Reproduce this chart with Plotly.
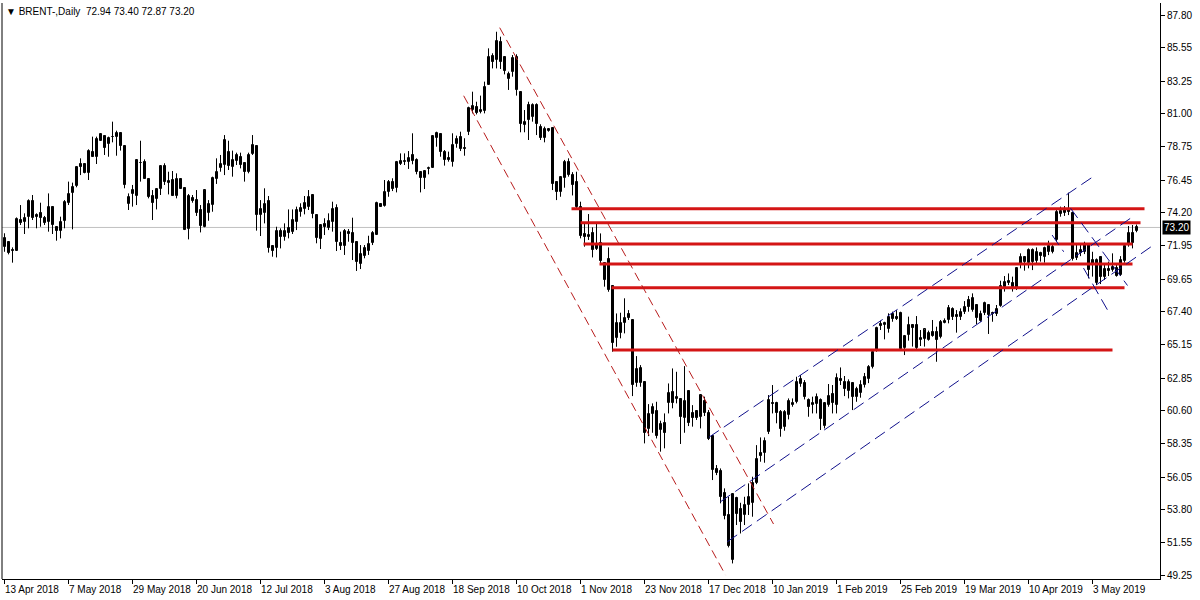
import plotly.graph_objects as go

# ---------------- DATA (bar index 0 = 13 Apr 2018, one bar per trading day) ----------------
open_ = [71.88,72.22,71.62,71.60,73.71,73.57,73.89,75.04,74.03,74.17,73.82,73.60,74.58,73.25,72.98,73.66,74.90,75.54,76.05,77.54,
         77.54,76.96,78.41,78.02,79.16,79.48,78.91,79.44,79.44,79.67,78.80,74.81,75.50,75.38,77.61,77.72,76.53,75.36,75.13,75.82,
         77.42,76.23,76.46,75.36,76.51,75.89,73.07,75.22,75.08,74.40,73.21,74.21,74.74,76.51,77.26,77.49,78.41,77.38,77.79,78.02,
         77.61,77.03,78.23,78.80,74.05,74.21,75.04,71.92,71.76,72.98,72.56,73.14,72.86,73.60,74.28,74.44,74.63,75.43,74.05,72.40,
         73.41,73.14,73.60,74.56,72.11,71.92,72.91,72.79,72.22,70.66,71.26,71.58,72.11,72.68,74.79,74.70,75.61,76.35,75.89,77.58,
         77.68,77.68,78.18,77.84,77.03,76.57,77.22,77.31,79.37,79.60,78.41,77.99,77.68,78.91,79.44,78.64,79.74,81.27,81.50,81.11,
         81.20,82.99,85.01,84.71,85.92,84.94,83.40,83.86,84.94,82.53,80.24,81.61,80.81,81.61,80.13,79.37,79.83,80.01,76.35,75.66,
         76.57,77.72,76.80,76.35,74.63,72.75,72.52,72.79,71.69,72.11,70.73,71.00,69.17,65.58,65.97,66.65,67.25,66.84,62.48,62.48,
         62.60,59.32,60.38,60.61,59.25,59.78,61.11,61.91,61.38,61.38,60.08,61.98,60.42,60.61,60.19,61.29,60.42,58.86,56.57,56.48,
         54.97,53.44,50.34,54.58,53.82,53.44,54.12,54.24,55.61,57.72,57.72,59.16,61.16,61.16,60.53,59.46,60.31,60.99,61.22,62.44,
         62.53,61.34,60.99,61.06,61.34,59.55,61.00,61.75,60.99,62.76,62.60,61.98,62.48,61.57,61.80,62.40,62.76,63.63,64.78,66.56,
         66.49,66.20,67.25,67.02,67.34,64.89,65.81,66.49,66.49,65.47,65.51,65.47,65.99,66.04,65.69,66.65,66.84,67.57,67.18,67.07,
         67.41,68.21,67.52,67.87,66.79,67.30,67.87,67.30,67.25,67.80,69.13,69.36,69.36,69.01,70.69,71.19,70.73,71.65,70.92,71.42,
         71.14,71.53,71.49,72.34,74.12,74.17,74.40,74.21,71.07,71.42,71.53,71.99,70.62,69.41,71.14,69.82,70.32,70.27,70.39,69.93,
         70.92,72.00,72.84,72.94]
high = [72.80,72.22,71.83,73.89,74.74,74.17,75.13,75.43,74.17,74.90,73.99,75.54,74.58,73.25,73.94,75.08,76.35,76.28,77.42,77.95,
        77.54,78.57,79.44,79.44,79.67,79.48,79.44,80.47,79.85,79.67,78.80,75.54,76.12,77.88,79.16,77.88,76.53,75.77,75.89,77.42,
        77.61,77.03,77.08,76.92,76.58,75.89,75.50,75.43,75.77,74.74,75.77,75.08,76.69,77.95,78.18,79.55,79.16,78.48,78.34,78.34,
        77.61,78.34,79.55,78.80,75.08,75.89,75.36,71.92,73.25,73.14,73.48,74.44,74.44,74.63,74.86,75.36,75.77,75.43,74.05,73.41,
        73.83,74.17,74.97,74.79,72.91,73.09,73.09,73.87,72.22,71.99,71.99,72.63,72.95,74.97,74.86,76.46,76.46,76.58,77.77,78.29,
        78.29,78.45,79.67,77.95,77.03,77.08,77.38,79.49,79.78,79.67,78.52,78.41,79.67,79.51,79.78,79.33,81.50,82.53,81.84,82.26,
        83.22,85.51,85.17,86.65,86.31,84.94,83.91,85.05,85.10,82.53,81.27,81.84,81.73,81.73,80.29,80.13,80.01,80.01,76.35,76.69,
        77.84,77.95,77.00,77.03,74.97,73.53,74.12,73.21,73.44,72.79,70.73,71.83,69.17,67.29,67.34,68.33,67.52,66.84,64.36,63.74,
        62.60,61.06,61.11,61.22,59.92,60.42,62.48,63.51,63.28,61.43,63.67,61.98,60.99,60.65,61.68,61.57,60.65,58.93,56.87,56.64,
        55.27,54.69,54.88,54.69,54.28,54.69,55.61,56.07,58.24,58.77,58.77,61.68,62.37,61.22,60.65,60.65,61.45,61.45,62.94,63.06,
        62.71,61.45,61.57,61.79,61.45,61.16,62.44,62.37,63.17,63.58,62.99,62.76,62.53,62.25,62.70,63.20,63.74,64.78,66.38,66.79,
        66.72,67.30,67.41,67.52,67.41,65.81,67.07,66.49,67.11,66.15,66.20,66.11,66.84,66.38,66.84,66.95,67.87,67.71,67.52,67.64,
        68.14,68.49,68.67,67.87,67.48,68.10,67.87,67.41,67.87,69.54,69.86,70.04,69.82,70.46,71.42,71.24,71.76,71.76,71.83,71.53,
        71.88,72.29,71.99,74.44,74.63,74.67,75.59,74.28,72.11,72.11,72.22,72.06,71.53,71.07,71.23,70.62,70.85,71.42,70.62,71.23,
        72.06,73.30,73.37,73.40]
low = [71.53,71.35,70.78,71.60,73.37,72.75,73.14,73.71,73.14,73.25,73.37,72.91,72.75,72.29,72.45,73.14,74.74,73.07,75.96,76.80,
       76.92,76.46,78.06,77.56,79.16,78.18,78.06,79.05,78.13,78.48,75.89,74.40,74.63,74.74,76.35,76.53,75.20,73.71,74.44,75.43,
       76.12,75.47,75.36,75.20,75.84,73.02,72.38,74.90,73.99,72.86,73.21,73.66,74.28,76.19,77.03,76.80,77.15,76.69,77.49,77.26,
       76.35,76.92,78.18,72.98,72.61,73.48,71.47,71.19,71.14,71.76,72.29,72.45,72.75,73.02,73.94,74.10,74.40,73.83,72.11,71.72,
       72.68,73.02,72.91,71.58,71.65,71.31,72.22,70.96,70.21,70.34,71.08,71.31,71.99,72.68,74.63,74.63,75.31,75.70,75.61,77.49,
       77.49,77.22,77.54,76.85,75.61,75.84,76.85,77.31,78.75,78.06,77.45,77.72,77.38,78.68,78.45,78.13,79.55,81.04,80.97,81.04,
       81.04,82.99,84.13,84.13,84.09,83.72,82.65,83.56,82.26,79.74,79.74,79.21,80.47,79.55,79.21,79.05,79.78,75.77,75.08,75.31,
       75.93,76.69,75.40,74.51,72.45,71.88,72.34,71.14,71.65,70.73,69.13,68.78,64.66,65.00,65.58,65.92,66.84,61.61,62.25,62.25,
       58.36,58.86,59.09,58.70,57.79,58.02,60.42,60.77,61.11,58.32,59.09,59.55,59.51,59.97,59.39,60.24,58.59,55.84,56.18,54.24,
       53.14,51.21,50.11,52.75,52.17,52.75,53.44,53.32,55.56,57.10,57.03,59.00,60.42,59.74,58.82,59.23,60.01,60.88,61.11,62.25,
       61.38,60.19,60.42,60.42,59.28,59.39,60.88,60.42,60.42,62.37,61.61,61.45,60.65,61.22,61.50,62.20,62.50,63.51,64.66,66.15,
       65.51,65.97,66.72,66.84,64.78,64.43,65.42,65.01,64.82,65.05,65.01,65.42,65.69,63.97,65.58,66.61,66.61,66.84,65.97,66.84,
       67.25,67.41,67.41,66.56,66.72,67.18,65.88,66.72,67.11,67.75,68.79,69.24,68.79,68.90,70.39,70.23,70.39,70.27,70.73,70.85,
       70.78,71.30,71.42,72.22,73.94,73.99,74.05,70.92,70.96,71.23,71.37,69.70,69.82,69.24,69.31,69.59,69.86,70.16,69.82,69.86,
       70.78,71.88,71.76,72.87]
close = [72.49,71.47,71.58,73.78,73.53,73.85,75.04,73.82,73.94,73.82,73.53,74.58,73.37,72.98,73.60,74.97,75.50,76.00,77.38,77.38,
         76.92,78.48,78.06,79.30,79.60,78.64,79.32,79.40,79.67,78.80,76.12,75.27,75.77,77.83,77.63,76.53,75.31,74.90,75.82,77.42,
         76.35,76.39,75.36,76.51,75.84,73.02,75.36,75.04,74.21,73.30,75.77,74.79,76.57,77.03,77.54,79.21,77.42,77.83,78.18,77.49,
         77.03,78.18,78.87,74.05,74.44,74.79,71.76,71.60,72.98,72.52,72.98,72.84,73.71,74.40,74.51,74.86,75.31,74.10,72.45,73.37,
         73.25,73.64,74.47,72.18,71.92,72.95,72.75,72.11,70.80,71.35,71.76,72.04,72.79,74.86,74.63,75.61,76.30,75.84,77.68,77.77,
         77.77,77.95,77.77,77.03,76.57,77.08,77.31,79.49,79.67,78.41,77.84,77.84,78.87,79.26,78.59,78.61,81.39,81.54,81.04,81.27,
         82.87,84.94,84.59,86.01,84.59,83.95,83.72,84.87,82.65,80.29,80.47,80.58,81.61,80.29,79.37,79.97,79.97,76.16,75.66,76.69,
         77.72,76.80,76.12,74.63,72.61,72.52,72.68,71.65,71.99,70.92,69.59,68.90,65.28,66.61,66.65,66.95,66.95,62.37,63.45,63.51,
         59.09,60.38,60.83,58.86,59.69,59.09,61.84,61.16,61.57,60.19,61.29,59.74,60.08,60.08,61.68,60.42,58.63,56.53,56.34,54.65,
         53.37,51.30,54.88,53.50,52.98,54.12,54.69,55.61,57.26,57.49,58.54,61.34,61.06,60.42,59.32,60.53,61.29,61.16,62.60,62.76,
         61.57,60.88,61.16,61.52,60.01,61.11,61.61,61.11,62.83,62.67,62.07,62.60,61.57,62.07,62.40,62.90,63.63,64.66,66.27,66.43,
         66.61,67.07,66.88,66.91,64.82,65.74,66.49,66.27,64.89,65.58,66.20,65.92,65.76,65.47,66.72,66.77,67.64,67.07,67.07,67.41,
         67.71,67.71,68.37,66.95,67.25,67.98,67.18,67.25,67.57,69.17,69.47,69.54,69.13,70.39,71.14,70.85,71.65,70.85,71.49,71.24,
         71.76,71.92,71.88,74.28,74.35,74.40,74.28,71.00,71.46,71.65,71.99,70.31,70.96,70.96,69.77,70.32,70.23,70.50,69.86,70.96,
         71.92,72.79,72.15,73.20]

date_labels = ["13 Apr 2018", "7 May 2018", "29 May 2018", "20 Jun 2018", "12 Jul 2018", "3 Aug 2018",
               "27 Aug 2018", "18 Sep 2018", "10 Oct 2018", "1 Nov 2018", "23 Nov 2018", "17 Dec 2018",
               "10 Jan 2019", "1 Feb 2019", "25 Feb 2019", "19 Mar 2019", "10 Apr 2019", "3 May 2019"]
date_label_bars = [16 * k for k in range(len(date_labels))]

price_ticks = [87.80, 85.55, 83.25, 81.00, 78.75, 76.45, 74.20, 71.95, 69.65, 67.40,
               65.15, 62.85, 60.60, 58.35, 56.05, 53.80, 51.55, 49.25]
last_price = 73.20

# horizontal support/resistance levels: price, start bar, end bar
level_prices = [74.49, 73.53, 72.07, 70.69, 69.06, 64.78]
level_start = [141.75, 144.0, 144.75, 148.75, 151.75, 152.0]
level_end = [285.0, 284.0, 282.0, 282.0, 280.0, 277.0]

# red descending channel (bar, price) endpoints
red_channel = [((123.8, 86.93), (192.25, 52.82)),
               ((114.8, 82.25), (180.25, 49.31))]
# blue ascending channel
blue_channel = [((176.1, 58.78), (272.75, 76.80)),
                ((179.0, 54.35), (281.5, 73.83)),
                ((180.7, 51.60), (287.25, 71.99))]
# small descending channel after April top
blue_small = [((266.5, 74.52), (280.75, 69.21)),
              ((261.9, 72.68), (264.8, 71.53)),
              ((269.75, 70.41), (275.75, 67.53))]

# ---------------- FIGURE ----------------
FONT = "Liberation Sans"
bars = list(range(len(close)))

# wicks (high-low), drawn behind the bodies
wick_x, wick_y = [], []
for i in bars:
    wick_x += [i, i, None]
    wick_y += [low[i], high[i], None]

body_base = [min(o, c) for o, c in zip(open_, close)]
body_len = [max(abs(c - o), 0.03) for o, c in zip(open_, close)]
body_fill = ["white" if c >= o else "black" for o, c in zip(open_, close)]

fig = go.Figure()
fig.add_trace(go.Scatter(x=wick_x, y=wick_y, mode="lines", line=dict(color="black", width=1),
                         hoverinfo="skip", showlegend=False))
fig.add_trace(go.Bar(x=bars, y=body_len, base=body_base, width=0.5,
                     marker=dict(color=body_fill, line=dict(color="black", width=1)),
                     hoverinfo="skip", showlegend=False))

shapes = []
# bid line
shapes.append(dict(type="line", xref="paper", x0=0, x1=1, yref="y", y0=last_price, y1=last_price,
                   line=dict(color="#c0c0c0", width=1), layer="below"))
for p, a, b in zip(level_prices, level_start, level_end):
    shapes.append(dict(type="line", xref="x", yref="y", x0=a, x1=b, y0=p, y1=p,
                       line=dict(color="#d41515", width=3)))
for (p0, p1) in red_channel:
    shapes.append(dict(type="line", xref="x", yref="y", x0=p0[0], y0=p0[1], x1=p1[0], y1=p1[1],
                       line=dict(color="#b81c1c", width=1, dash="9px,5px")))
for (p0, p1) in blue_channel + blue_small:
    shapes.append(dict(type="line", xref="x", yref="y", x0=p0[0], y0=p0[1], x1=p1[0], y1=p1[1],
                       line=dict(color="#10108c", width=1, dash="12px,6px")))
# frame (left border)
shapes.append(dict(type="line", xref="paper", yref="paper", x0=0, x1=0, y0=0, y1=1,
                   line=dict(color="black", width=1)))

annotations = []
for b, t in zip(date_label_bars, date_labels):
    annotations.append(dict(x=b, y=0, xref="x", yref="paper", text=t, showarrow=False,
                            xanchor="left", yanchor="top", yshift=-3, xshift=-2,
                            font=dict(family=FONT, size=10, color="black")))
annotations.append(dict(x=0, y=1, xref="paper", yref="paper", xanchor="left", yanchor="top",
                        xshift=2, yshift=-1, showarrow=False,
                        text="▼ BRENT-,Daily  72.94 73.40 72.87 73.20",
                        font=dict(family=FONT, size=10, color="black")))
annotations.append(dict(x=1, y=last_price, xref="paper", yref="y", xanchor="left", yanchor="middle",
                        xshift=2, showarrow=False, text="73.20", bgcolor="black", borderpad=1,
                        font=dict(family=FONT, size=10, color="white")))

fig.update_layout(
    template="none",
    width=1200, height=600,
    margin=dict(l=2, r=40, t=3, b=21, autoexpand=False),
    paper_bgcolor="white", plot_bgcolor="white",
    showlegend=False, hovermode=False, bargap=0,
    shapes=shapes, annotations=annotations,
    xaxis=dict(range=[-0.625, 288.875], showgrid=False, zeroline=False, showline=True, automargin=False,
               linecolor="black", linewidth=1, ticks="outside", ticklen=4, tickcolor="black",
               tickvals=date_label_bars, showticklabels=False, fixedrange=True),
    yaxis=dict(side="right", range=[49.04, 88.625], showgrid=False, zeroline=False, automargin=False,
               showline=True, linecolor="black", linewidth=1,
               ticks="outside", ticklen=4, tickcolor="black",
               tickvals=price_ticks, ticktext=[f"{v:.2f}" for v in price_ticks],
               tickfont=dict(family=FONT, size=10, color="black"), fixedrange=True),
)

fig.write_html("out.html", config={"displayModeBar": False},
               post_script="document.body.style.margin='0';document.body.style.padding='0';"
                           "document.body.style.overflow='hidden';")
